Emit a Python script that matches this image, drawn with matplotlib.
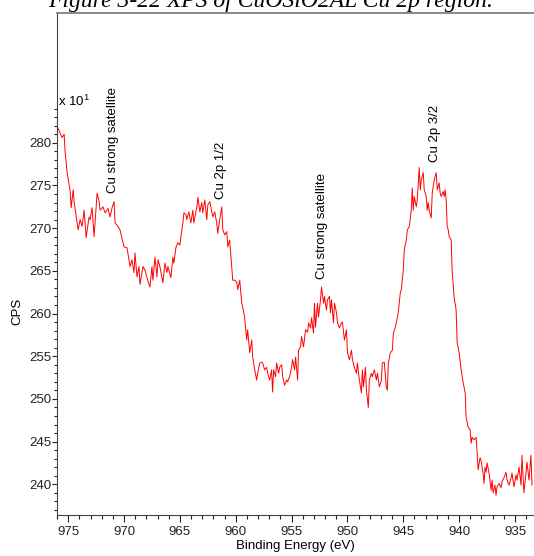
import matplotlib
matplotlib.use("Agg")
import matplotlib.pyplot as plt
from matplotlib.ticker import MultipleLocator

plt.rcParams['font.family'] = ['Liberation Sans', 'DejaVu Sans']
plt.rcParams['mathtext.fontset'] = 'custom'
plt.rcParams['mathtext.rm'] = 'Liberation Sans'

# Binding energy (eV) and counts (CPS x 10)
energy = [975.98, 975.54, 975.36, 975.27, 975.09, 974.82, 974.73, 974.55, 974.46, 974.11,
          973.93, 973.75, 973.57, 973.39, 973.13, 973.04, 972.86, 972.68, 972.41, 972.23,
          972.14, 971.88, 971.70, 971.43, 971.25, 971.07, 970.89, 970.80, 970.54, 970.36,
          970.00, 969.73, 969.46, 969.29, 969.11, 969.02, 968.84, 968.66, 968.57, 968.30,
          968.13, 967.95, 967.68, 967.50, 967.41, 967.23, 967.05, 966.96, 966.79, 966.52,
          966.34, 966.16, 966.07, 965.80, 965.63, 965.54, 965.36, 965.18, 965.00, 964.91,
          964.73, 964.64, 964.46, 964.38, 964.20, 964.02, 963.84, 963.75, 963.48, 963.39,
          963.21, 963.04, 962.95, 962.77, 962.59, 962.50, 962.32, 962.05, 961.88, 961.70,
          961.61, 961.43, 961.25, 961.16, 960.98, 960.80, 960.71, 960.54, 960.36, 960.27,
          960.09, 959.91, 959.82, 959.64, 959.46, 959.38, 959.20, 959.02, 958.93, 958.75,
          958.57, 958.48, 958.30, 958.13, 958.04, 957.86, 957.68, 957.59, 957.41, 957.23,
          957.14, 956.96, 956.79, 956.70, 956.61, 956.43, 956.34, 956.16, 956.07, 955.89,
          955.80, 955.63, 955.45, 955.36, 955.18, 955.00, 954.91, 954.73, 954.64, 954.46,
          954.38, 954.20, 954.11, 953.93, 953.75, 953.57, 953.48, 953.30, 953.21, 953.04,
          952.95, 952.86, 952.68, 952.59, 952.41, 952.32, 952.14, 952.05, 951.88, 951.79,
          951.61, 951.52, 951.43, 951.25, 951.16, 950.98, 950.89, 950.71, 950.54, 950.45,
          950.27, 950.09, 950.00, 949.82, 949.64, 949.55, 949.38, 949.20, 949.11, 948.93,
          948.75, 948.66, 948.57, 948.39, 948.30, 948.13, 948.04, 947.86, 947.77, 947.59,
          947.41, 947.32, 947.14, 946.96, 946.88, 946.70, 946.52, 946.43, 946.34, 946.16,
          945.98, 945.89, 945.71, 945.63, 945.45, 945.27, 945.18, 945.00, 944.91, 944.73,
          944.64, 944.46, 944.29, 944.20, 944.11, 944.02, 943.84, 943.75, 943.57, 943.48,
          943.39, 943.21, 943.13, 942.95, 942.86, 942.77, 942.68, 942.50, 942.41, 942.23,
          942.05, 941.96, 941.79, 941.70, 941.61, 941.43, 941.34, 941.25, 941.16, 941.07,
          940.98, 940.89, 940.71, 940.63, 940.45, 940.27, 940.18, 940.00, 939.82, 939.64,
          939.46, 939.38, 939.20, 939.02, 938.93, 938.84, 938.66, 938.48, 938.39, 938.30,
          938.13, 938.04, 937.86, 937.77, 937.68, 937.59, 937.50, 937.32, 937.14, 937.05,
          936.96, 936.79, 936.70, 936.61, 936.43, 936.25, 936.16, 935.98, 935.80, 935.71,
          935.54, 935.36, 935.27, 935.09, 934.91, 934.82, 934.64, 934.46, 934.38, 934.20,
          934.02, 933.93, 933.75, 933.57, 933.48]
cps = [281.9, 280.6, 281.0, 278.8, 276.5, 274.3, 272.4, 274.5, 273.0, 269.8,
       271.0, 270.2, 272.1, 268.9, 271.3, 271.0, 272.4, 269.0, 274.1, 273.1,
       272.1, 272.5, 271.8, 272.3, 271.3, 272.4, 273.1, 270.6, 270.2, 269.8,
       267.8, 267.7, 265.5, 266.3, 264.8, 267.1, 264.3, 265.5, 263.4, 265.5,
       265.1, 264.2, 263.1, 265.5, 263.9, 266.6, 264.3, 266.3, 265.5, 263.6,
       265.9, 264.8, 265.5, 264.2, 266.6, 265.9, 267.7, 268.3, 268.0, 269.0,
       270.6, 271.8, 271.6, 271.0, 271.9, 270.6, 272.1, 270.6, 272.5, 273.6,
       271.9, 273.0, 271.8, 273.3, 271.0, 272.7, 273.1, 271.3, 271.9, 270.6,
       269.4, 271.0, 272.5, 269.8, 269.2, 269.6, 267.8, 268.6, 265.5, 263.9,
       263.9, 263.7, 262.8, 263.9, 261.2, 260.8, 259.5, 256.9, 258.1, 255.4,
       256.9, 254.9, 253.4, 252.2, 253.0, 254.2, 254.3, 254.2, 253.4, 253.7,
       253.0, 252.2, 253.4, 250.8, 253.4, 252.6, 254.2, 253.0, 253.7, 254.0,
       252.6, 251.6, 252.2, 252.0, 252.6, 253.7, 254.6, 253.4, 254.9, 252.2,
       255.7, 256.1, 257.3, 256.1, 258.1, 257.8, 258.9, 258.3, 259.5, 257.7,
       261.2, 258.4, 261.2, 259.6, 261.6, 263.1, 261.2, 262.0, 260.4, 261.6,
       262.0, 260.1, 261.6, 258.9, 261.2, 260.1, 258.9, 258.3, 258.9, 259.0,
       256.9, 258.1, 255.4, 254.6, 255.7, 254.6, 253.7, 253.0, 254.2, 252.2,
       250.7, 253.4, 251.4, 253.7, 251.0, 249.0, 252.2, 253.0, 252.6, 253.4,
       252.2, 253.0, 251.4, 252.2, 254.2, 254.3, 251.4, 251.0, 254.2, 255.4,
       255.7, 257.7, 258.4, 258.9, 260.1, 262.4, 262.8, 265.1, 267.5, 268.6,
       269.8, 270.2, 272.1, 274.7, 272.1, 273.7, 272.5, 273.3, 277.1, 274.5,
       275.7, 276.5, 274.5, 273.7, 272.1, 273.0, 272.1, 271.2, 274.1, 275.7,
       276.5, 274.5, 275.3, 274.1, 273.7, 274.3, 273.7, 274.5, 273.3, 270.2,
       269.8, 269.0, 268.6, 265.1, 261.9, 260.4, 256.6, 255.4, 253.4, 251.9,
       250.7, 247.9, 246.7, 246.4, 244.8, 245.5, 245.2, 245.5, 243.7, 241.7,
       243.1, 242.8, 241.3, 240.1, 242.0, 241.4, 242.5, 241.3, 239.3, 240.5,
       239.0, 239.9, 238.7, 239.7, 240.1, 239.6, 240.3, 240.8, 241.4, 240.5,
       239.9, 240.7, 241.3, 239.7, 241.1, 240.5, 242.0, 239.9, 243.4, 239.0,
       241.3, 242.6, 240.5, 243.4, 239.9]

peak_names = ["Cu strong satellite", "Cu 2p 1/2", "Cu strong satellite", "Cu 2p 3/2"]
peak_x = [971.0, 961.3, 952.3, 942.2]
peak_y = [274.1, 273.4, 264.1, 277.7]

fig = plt.figure(figsize=(5.34, 5.56), dpi=100, facecolor='white')
ax = fig.add_axes([57 / 534, 41 / 556, 477 / 534, 502 / 556])

ax.plot(energy, cps, color='#ff0000', linewidth=0.7)

ax.set_xlim(976.0, 933.3)
ax.set_ylim(236.4, 295.2)

ax.xaxis.set_major_locator(MultipleLocator(5))
ax.xaxis.set_minor_locator(MultipleLocator(1))
ax.set_yticks([240, 245, 250, 255, 260, 265, 270, 275, 280])
ax.set_yticks(list(range(237, 285)), minor=True)
ax.tick_params(which='major', direction='out', width=0.8, labelsize=9.5, colors='#222222')
ax.tick_params(which='minor', direction='out', width=0.8, colors='#222222')
ax.tick_params(axis='y', which='major', length=3.8, pad=0.5)
ax.tick_params(axis='y', which='minor', length=2.2)
ax.tick_params(axis='x', which='major', length=5, pad=3)
ax.tick_params(axis='x', which='minor', length=3)

ax.spines['right'].set_visible(False)
ax.spines['top'].set_color('#808080')
ax.spines['top'].set_linewidth(1.3)
ax.spines['left'].set_color('#444444')
ax.spines['bottom'].set_color('#444444')

ax.set_xlabel('Binding Energy (eV)', fontsize=9.5, labelpad=1)
ax.set_ylabel('CPS', fontsize=9.5)
ax.yaxis.set_label_coords(-0.071, 0.406)

ax.text(0.003, 0.823, r'x 10$^{1}$', transform=ax.transAxes, fontsize=9.5,
        ha='left', va='center')

for name, x, y in zip(peak_names, peak_x, peak_y):
    ax.text(x, y, name, rotation=90, fontsize=9.5, ha='center', va='bottom')

fig.text(0.506, 1 - 7 / 556, 'Figure 3-22 XPS of CuOSiO2AL Cu 2p region.',
         family='Liberation Serif', style='italic', fontsize=17,
         ha='center', va='baseline')

fig.savefig('out.png', dpi=100, facecolor='white')
